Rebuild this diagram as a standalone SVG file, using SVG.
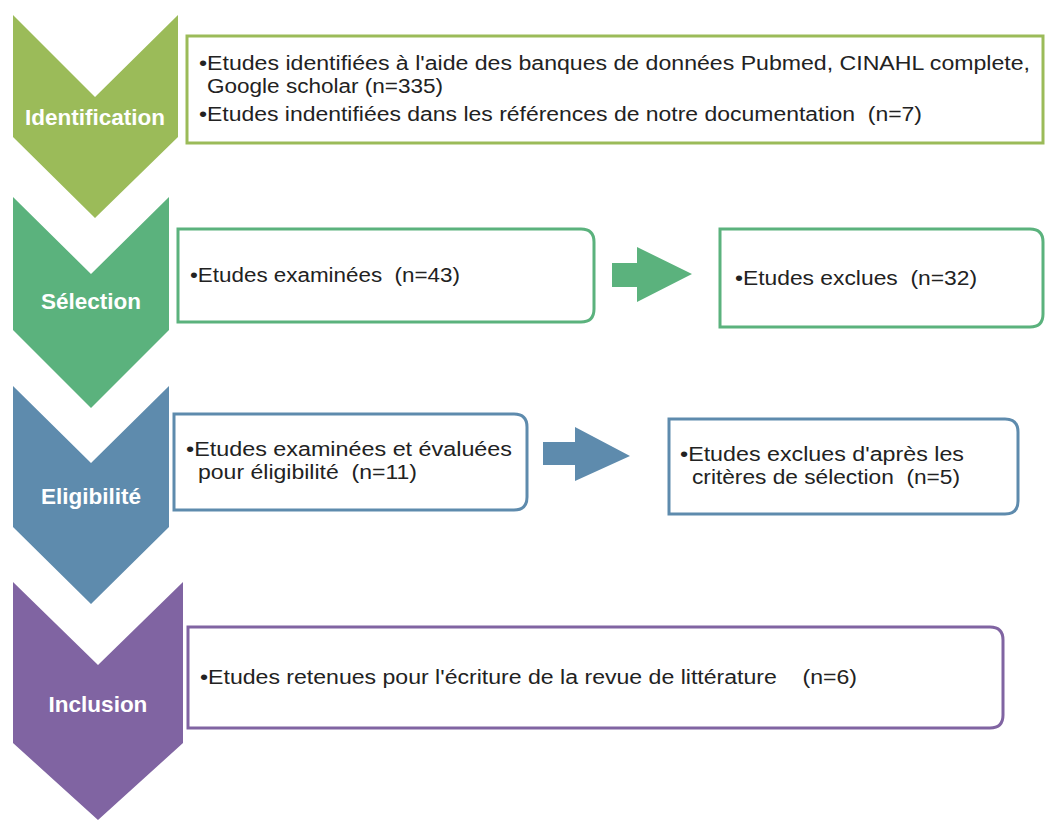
<svg xmlns="http://www.w3.org/2000/svg" width="1045" height="821" viewBox="0 0 1045 821">
<style>
.lbl{font-family:"Liberation Sans",Arial,sans-serif;font-weight:bold;font-size:22.5px;fill:#fff;text-anchor:middle}
.t{font-family:"Liberation Sans",Arial,sans-serif;font-size:20px;fill:#222;white-space:pre}
.box{fill:#fff;stroke-width:3}
</style>
<rect width="1045" height="821" fill="#fff"/>
<g id="chevron-identification">
<path d="M13,15 L95,97 L178,15 L178,137 L95,218 L13,137 Z" fill="#9BBB59"/>
<text class="lbl" x="95" y="125">Identification</text>
</g>
<g id="chevron-selection">
<path d="M13,197 L91,274 L169,197 L169,330 L91,408 L13,330 Z" fill="#5BB27D"/>
<text class="lbl" x="91" y="309">Sélection</text>
</g>
<g id="chevron-eligibilite">
<path d="M13,386 L91,463 L169,386 L169,527 L91,604 L13,527 Z" fill="#5E8BAD"/>
<text class="lbl" x="91" y="504">Eligibilité</text>
</g>
<g id="chevron-inclusion">
<path d="M13,582 L98,665 L183,582 L183,743 L98,820 L13,743 Z" fill="#8064A2"/>
<text class="lbl" x="98" y="712">Inclusion</text>
</g>
<g id="box-identification">
<rect class="box" x="187" y="36" width="856" height="107" stroke="#9BBB59"/>
<text class="t" x="199" y="70" textLength="831" lengthAdjust="spacingAndGlyphs">•Etudes identifiées à l'aide des banques de données Pubmed, CINAHL complete,</text>
<text class="t" x="207" y="93" textLength="236" lengthAdjust="spacingAndGlyphs">Google scholar (n=335)</text>
<text class="t" x="199" y="121" textLength="723" lengthAdjust="spacingAndGlyphs">•Etudes indentifiées dans les références de notre documentation  (n=7)</text>
</g>
<g id="box-selection">
<path class="box" d="M178,229 H581 Q594,229 594,242 V309 Q594,322 581,322 H178 Z" stroke="#5BB27D"/>
<text class="t" x="190" y="282" textLength="270" lengthAdjust="spacingAndGlyphs">•Etudes examinées  (n=43)</text>
</g>
<g id="box-exclues">
<path class="box" d="M720,229 H1030 Q1043,229 1043,242 V314 Q1043,327 1030,327 H720 Z" stroke="#5BB27D"/>
<text class="t" x="735" y="285" textLength="242" lengthAdjust="spacingAndGlyphs">•Etudes exclues  (n=32)</text>
</g>
<g id="box-eligibilite">
<path class="box" d="M174,414 H514 Q527,414 527,427 V497 Q527,510 514,510 H174 Z" stroke="#5E8BAD"/>
<text class="t" x="186" y="456" textLength="326" lengthAdjust="spacingAndGlyphs">•Etudes examinées et évaluées</text>
<text class="t" x="198" y="479" textLength="219" lengthAdjust="spacingAndGlyphs">pour éligibilité  (n=11)</text>
</g>
<g id="box-exclues-criteres">
<path class="box" d="M669,419 H1005 Q1018,419 1018,432 V501 Q1018,514 1005,514 H669 Z" stroke="#5E8BAD"/>
<text class="t" x="680" y="461" textLength="284" lengthAdjust="spacingAndGlyphs">•Etudes exclues d'après les</text>
<text class="t" x="692" y="484" textLength="268" lengthAdjust="spacingAndGlyphs">critères de sélection  (n=5)</text>
</g>
<g id="box-inclusion">
<path class="box" d="M188,627 H990 Q1003,627 1003,640 V715 Q1003,728 990,728 H188 Z" stroke="#8064A2"/>
<text class="t" x="200" y="684" textLength="657" lengthAdjust="spacingAndGlyphs">•Etudes retenues pour l'écriture de la revue de littérature    (n=6)</text>
</g>
<g id="connectors">
<path d="M612,263 H637 V247 L692,274 L637,302 V287 H612 Z" fill="#5BB27D"/>
<path d="M543,442 H575 V427 L630,456 L575,481 V465 H543 Z" fill="#5E8BAD"/>
</g>
</svg>
